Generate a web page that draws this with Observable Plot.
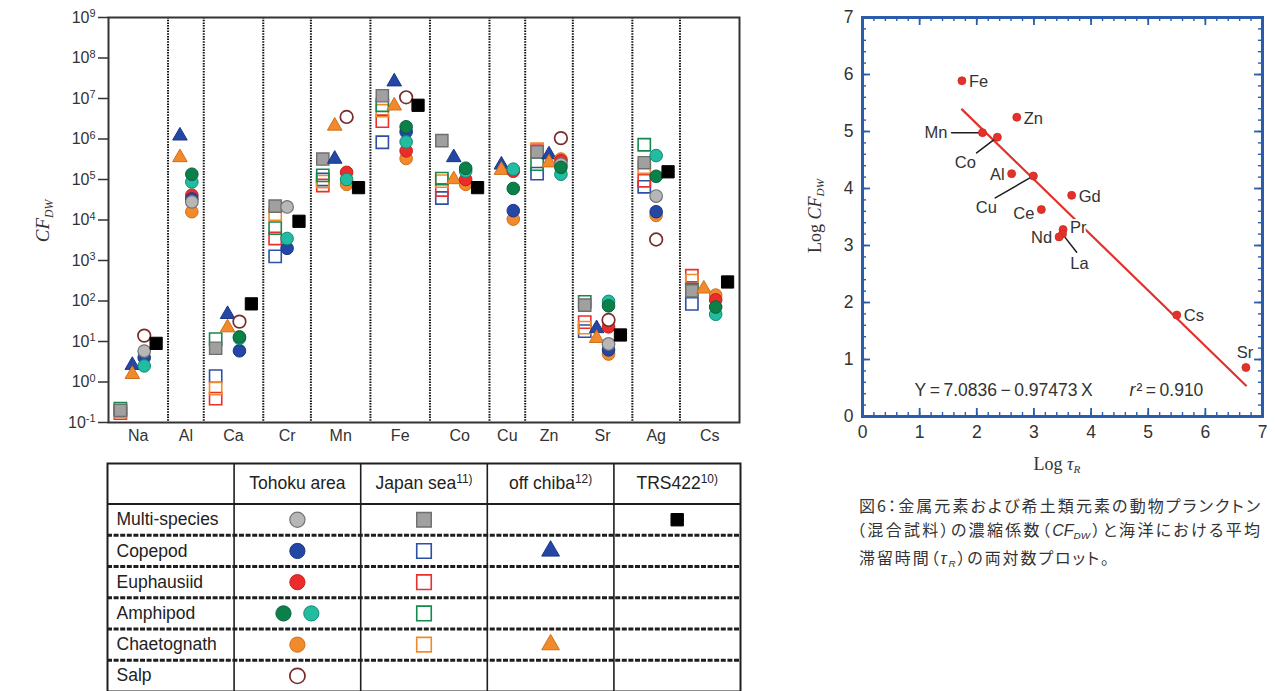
<!DOCTYPE html>
<html>
<head>
<meta charset="utf-8">
<script src="https://cdn.jsdelivr.net/npm/d3@7"></script>
<script src="https://cdn.jsdelivr.net/npm/@observablehq/plot@0.6"></script>
<style>
  html, body { margin: 0; padding: 0; background: #fff; }
  body { width: 1275px; height: 691px; position: relative; overflow: hidden; font-family: "Liberation Sans", Arial, sans-serif; color: #333; }
  .abs { position: absolute; }
  .rot { position: absolute; transform: translate(-50%, -50%) rotate(-90deg); white-space: nowrap; font-family: "Liberation Serif", "DejaVu Serif", serif; color: #333; }
  .hor { position: absolute; transform: translate(-50%, -50%); white-space: nowrap; font-family: "Liberation Serif", "DejaVu Serif", serif; color: #333; }
  .sb { font-size: 0.62em; position: relative; top: 0.3em; }
  #caption { position: absolute; left: 859px; top: 493px; width: 401px; font-family: "Noto Sans CJK JP", sans-serif; font-size: 16px; line-height: 24px; color: #333; font-feature-settings: "palt"; }
  #caption .j { text-align: justify; text-align-last: justify; white-space: nowrap; }
  #caption i { font-family: "Liberation Sans", Arial, sans-serif; }
</style>
</head>
<body>
<div id="left" class="abs" style="left:0;top:0"></div>
<div id="table" class="abs" style="left:0;top:455px"></div>
<div id="right" class="abs" style="left:800px;top:0"></div>

<div class="rot" style="left:43px;top:221px;font-size:19px"><i>CF</i><i class="sb">DW</i></div>
<div class="rot" style="left:815px;top:216px;font-size:18px">Log <i>CF</i><i class="sb">DW</i></div>
<div class="hor" style="left:1057px;top:464px;font-size:18px">Log <i>τ</i><i class="sb">R</i></div>

<div id="caption">
  <div class="j">図6：金属元素および希土類元素の動物プランクトン</div>
  <div class="j" style="margin-left:-2px;width:403px">（混合試料）の濃縮係数（<i>CF</i><i class="sb">DW</i>）と海洋における平均</div>
  <div style="letter-spacing:1.9px">滞留時間（<i>τ</i><i class="sb">R</i>）の両対数プロット。</div>
</div>

<script>
// ---------------- DATA: left chart (CF_DW, dry-weight concentration factors) ----------------
const elements = ["Na","Al","Ca","Cr","Mn","Fe","Co","Cu","Zn","Sr","Ag","Cs"];
const yTickExponents = [-1,0,1,2,3,4,5,6,7,8,9];

// Tohoku area (circles)
const tohokuMulti       = [5.8, 2.8e4, null, 2.1e4, null, null, null, null, 2.4e5, 8.7, 3.9e4, null];
const tohokuCopepod     = [4.0, 3.3e4, 5.9, 2.0e3, null, 1.5e6, null, 1.7e4, null, 6.2, 1.6e4, null];
const tohokuEuphausiid  = [null, 4.1e4, null, null, 1.5e5, 5.1e5, 1.0e5, 1.6e5, 2.9e5, 23, null, 107];
const tohokuAmphipodA   = [null, 1.35e5, 13, null, null, 2.0e6, 1.9e5, 6.0e4, 2.0e5, 76, 1.2e5, 71];
const tohokuAmphipodB   = [2.5, 8.7e4, 12, 3.5e3, 1.0e5, 8.5e5, 1.6e5, 1.8e5, 1.35e5, 98, 3.9e5, 47];
const tohokuChaetognath = [null, 1.6e4, null, null, 7.6e4, 3.3e5, 7.6e4, 1.05e4, 3.2e5, 4.9, 1.3e4, 140];
const tohokuSalp        = [14, null, 31, null, 3.5e6, 1.07e7, null, null, 1.05e6, 34, 3.3e3, null];
// Japan sea (squares)
const japanMulti        = [0.2, null, 6.8, 2.2e4, 3.2e5, 1.17e7, 9.1e5, null, 4.8e5, 79, 2.6e5, 178];
const japanCopepod      = [null, null, 1.4, 1.26e3, 1.0e5, 8.3e5, 3.5e4, null, 1.4e5, 18, 6.6e4, 85];
const japanEuphausiid   = [0.17, null, 0.39, 3.5e3, 7.1e4, 2.75e6, 5.5e4, null, 5.0e5, 30, 9.3e4, 420];
const japanAmphipod     = [0.22, null, 11.5, 6.3e3, 1.26e5, 6.8e6, 1.05e5, null, 2.4e5, 95, 7.2e5, 190];
const japanChaetognath  = [0.19, null, 0.69, 1.4e4, 8.9e4, 5.0e6, 9.1e4, null, 5.6e5, 22, 2.0e5, 320];
// off chiba (triangles)
const chibaCopepod      = [2.6, 1.2e6, 47, null, 3.2e5, 2.6e7, 3.5e5, 2.3e5, 4.1e5, 21, null, null];
const chibaChaetognath  = [1.55, 3.5e5, 22, null, 2.1e6, 6.6e6, 1.0e5, 1.7e5, 2.6e5, 12, null, 200];
// TRS422 (black squares)
const trs422            = [9, null, 85, 9.3e3, 6.3e4, 6.8e6, 6.3e4, null, null, 14.5, 1.55e5, 295];

// ---------------- DATA: legend table ----------------
const legendColumns = ["Tohoku area", "Japan sea^11)", "off chiba^12)", "TRS422^10)"];
const legendRows = ["Multi-species", "Copepod", "Euphausiid", "Amphipod", "Chaetognath", "Salp"];

// ---------------- DATA: right chart ----------------
const reElements = ["Fe","Zn","Mn","Co","Al","Cu","Gd","Ce","Pr","La","Nd","Cs","Sr"];
const logTauR    = [1.74, 2.70, 2.10, 2.36, 2.61, 2.99, 3.66, 3.13, 3.51, 3.50, 3.44, 5.50, 6.71];
const logCFdw    = [5.89, 5.25, 4.98, 4.90, 4.26, 4.22, 3.88, 3.63, 3.28, 3.20, 3.15, 1.78, 0.86];
const fitIntercept = 7.0836;
const fitSlope = -0.97473;
const fitR2 = "0.910";
const axisTicks = [0, 1, 2, 3, 4, 5, 6, 7];

// ---------------- series definitions (draw order) ----------------
const seriesList = [
  {key:"japanCopepod",      source:"japan",  group:"Copepod",       values: japanCopepod},
  {key:"japanEuphausiid",   source:"japan",  group:"Euphausiid",    values: japanEuphausiid},
  {key:"japanChaetognath",  source:"japan",  group:"Chaetognath",   values: japanChaetognath},
  {key:"japanAmphipod",     source:"japan",  group:"Amphipod",      values: japanAmphipod},
  {key:"japanMulti",        source:"japan",  group:"Multi-species", values: japanMulti},
  {key:"chibaCopepod",      source:"chiba",  group:"Copepod",       values: chibaCopepod},
  {key:"chibaChaetognath",  source:"chiba",  group:"Chaetognath",   values: chibaChaetognath},
  {key:"tohokuChaetognath", source:"tohoku", group:"Chaetognath",   values: tohokuChaetognath},
  {key:"tohokuEuphausiid",  source:"tohoku", group:"Euphausiid",    values: tohokuEuphausiid},
  {key:"tohokuCopepod",     source:"tohoku", group:"Copepod",       values: tohokuCopepod},
  {key:"tohokuMulti",       source:"tohoku", group:"Multi-species", values: tohokuMulti},
  {key:"tohokuAmphipodB",   source:"tohoku", group:"Amphipod",      values: tohokuAmphipodB},
  {key:"tohokuAmphipodA",   source:"tohoku", group:"Amphipod",      values: tohokuAmphipodA},
  {key:"tohokuSalp",        source:"tohoku", group:"Salp",          values: tohokuSalp},
  {key:"trs422",            source:"trs",    group:"Multi-species", values: trs422}
];
const legendOrder = ["tohokuMulti","tohokuCopepod","tohokuEuphausiid","tohokuAmphipodA","tohokuAmphipodB","tohokuChaetognath","tohokuSalp",
  "japanMulti","japanCopepod","japanEuphausiid","japanAmphipod","japanChaetognath","chibaCopepod","chibaChaetognath","trs422"];
const sourceColumn = {tohoku: 0, japan: 1, chiba: 2, trs: 3};

// ---------------- styles ----------------
const styles = {
  tohokuMulti:       {symbol:"circle",   fill:"#b7b7b7", stroke:"#737373", strokeWidth:1.2},
  tohokuCopepod:     {symbol:"circle",   fill:"#2447a6", stroke:"#1a3683", strokeWidth:1},
  tohokuEuphausiid:  {symbol:"circle",   fill:"#ec2b2b", stroke:"#c71f1f", strokeWidth:1},
  tohokuAmphipodA:   {symbol:"circle",   fill:"#0b8149", stroke:"#06623a", strokeWidth:1},
  tohokuAmphipodB:   {symbol:"circle",   fill:"#22bca1", stroke:"#108a74", strokeWidth:1},
  tohokuChaetognath: {symbol:"circle",   fill:"#f08a2c", stroke:"#d26f18", strokeWidth:1},
  tohokuSalp:        {symbol:"circle",   fill:"#ffffff", stroke:"#7b2a2a", strokeWidth:1.7},
  japanMulti:        {symbol:"square",   fill:"#a0a0a0", stroke:"#6e6e6e", strokeWidth:1.4},
  japanCopepod:      {symbol:"square",   fill:"none",    stroke:"#2c4fa8", strokeWidth:1.6},
  japanEuphausiid:   {symbol:"square",   fill:"none",    stroke:"#e8302c", strokeWidth:1.6},
  japanAmphipod:     {symbol:"square",   fill:"none",    stroke:"#13894e", strokeWidth:1.6},
  japanChaetognath:  {symbol:"square",   fill:"none",    stroke:"#f08a2c", strokeWidth:1.6},
  chibaCopepod:      {symbol:"triangle", fill:"#2447a6", stroke:"#1a3683", strokeWidth:1},
  chibaChaetognath:  {symbol:"triangle", fill:"#f08a2c", stroke:"#d26f18", strokeWidth:1},
  trs422:            {symbol:"square",   fill:"#000000", stroke:"#000000", strokeWidth:1}
};
const chartR = {circle: 6.3, square: 6.9, triangle: 5.4};
const tableR = {circle: 7.6, square: 8.2, triangle: 6.6};
const dotOpts = (st, sizes) => ({symbol: st.symbol, r: sizes[st.symbol], fill: st.fill, stroke: st.stroke, strokeWidth: st.strokeWidth});

// turn "base^sup" text into base + raised small superscript (kept as real text)
function superscriptify(svg, exponentShift) {
  d3.select(svg).selectAll("text").filter(function() { return /\^/.test(this.textContent); }).each(function() {
    const [b, e] = this.textContent.split("^");
    const t = d3.select(this);
    t.text(null);
    t.append("tspan").text(b);
    t.append("tspan").attr("dy", exponentShift).attr("font-size", "0.68em").text(e);
  });
}

// ---------------- LEFT CHART ----------------
const records = seriesList.flatMap(s =>
  elements.map((e, i) => ({element: e, source: s.source, key: s.key, value: s.values[i]}))
          .filter(d => d.value != null));
const slotOrder = ["japan", "chiba", "tohoku", "trs"];
const groupPad = 1.0;
const slotX = new Map();
const centers = [];
const bounds = [];
let cursor = 0;
for (const e of elements) {
  const present = slotOrder.filter(src => records.some(d => d.element === e && d.source === src));
  present.forEach((src, k) => slotX.set(e + "|" + src, cursor + groupPad / 2 + k + 0.5));
  centers.push({element: e, x: cursor + (present.length + groupPad) / 2});
  cursor += present.length + groupPad;
  bounds.push(cursor);
}
bounds.pop();
const total = cursor;

const leftSvg = Plot.plot({
  width: 760, height: 452,
  marginLeft: 108, marginRight: 21, marginTop: 17, marginBottom: 30,
  style: {fontFamily: "Liberation Sans, Arial, sans-serif", color: "#333", background: "transparent", overflow: "visible"},
  x: {domain: [0, total], axis: null},
  y: {type: "log", domain: [0.1, 1e9], axis: null},
  marks: [
    Plot.ruleX(bounds, {stroke: "#111", strokeWidth: 2, strokeDasharray: "1.5,1.2"}),
    Plot.axisY({ticks: yTickExponents.map(e => Math.pow(10, e)), tickFormat: d => "10^" + Math.round(Math.log10(d)),
                tickSize: 10, tickPadding: 3, fontSize: 16, stroke: "#333", strokeWidth: 1.5, label: null}),
    Plot.text(centers, {x: "x", text: "element", frameAnchor: "bottom", lineAnchor: "top", dy: 7, fontSize: 16, fill: "#333"}),
    ...seriesList.map(s => Plot.dot(records.filter(d => d.key === s.key),
        {x: d => slotX.get(d.element + "|" + d.source), y: "value", ...dotOpts(styles[s.key], chartR)})),
    Plot.frame({stroke: "#333", strokeWidth: 2})
  ]
});
superscriptify(leftSvg, "-0.5em");
document.getElementById("left").append(leftSvg);

// ---------------- LEGEND TABLE ----------------
const headerH = 1.3;
const cellGroups = d3.group(legendOrder.map(k => seriesList.find(s => s.key === k)), s => s.source + "|" + s.group);
const legendDots = [];
for (const [, list] of cellGroups) {
  list.forEach((s, k) => legendDots.push({
    key: s.key,
    x: sourceColumn[s.source] + 1.5 + (k - (list.length - 1) / 2) * 0.22,
    y: headerH + legendRows.indexOf(s.group) + 0.5
  }));
}
const tableSvg = Plot.plot({
  width: 760, height: 240,
  marginLeft: 107, marginRight: 20, marginTop: 8, marginBottom: 4,
  style: {fontFamily: "Liberation Sans, Arial, sans-serif", color: "#222", background: "transparent"},
  x: {domain: [0, 5], axis: null},
  y: {domain: [0, headerH + legendRows.length], reverse: true, axis: null},
  marks: [
    Plot.ruleY(legendRows.slice(1).map((_, i) => headerH + i + 1), {stroke: "#1e1e1e", strokeWidth: 3, strokeDasharray: "5,1.6"}),
    Plot.ruleY([headerH], {stroke: "#1e1e1e", strokeWidth: 2}),
    Plot.ruleX([1, 2, 3, 4], {stroke: "#1e1e1e", strokeWidth: 1.6}),
    Plot.text(legendColumns, {x: (d, i) => i + 1.5, y: headerH / 2, text: d => d, fontSize: 17.5, fill: "#222"}),
    Plot.text(legendRows, {x: 0, y: (d, i) => headerH + i + 0.5, text: d => d, textAnchor: "start", dx: 9, fontSize: 17.5, fill: "#222"}),
    ...legendOrder.map(k => Plot.dot(legendDots.filter(d => d.key === k), {x: "x", y: "y", ...dotOpts(styles[k], k === "trs422" ? {square: 7} : tableR)})),
    Plot.frame({stroke: "#1e1e1e", strokeWidth: 2})
  ]
});
superscriptify(tableSvg, "-0.55em");
document.getElementById("table").append(tableSvg);

// ---------------- RIGHT CHART ----------------
const blue = "#2a5cab";
const rW = 475, rH = 485, rML = 62, rMR = 13, rMT = 17, rMB = 69;
const innerW = rW - rML - rMR, innerH = rH - rMT - rMB;
const minorTicks = d3.range(0, 35).map(i => i / 5);
const pts = reElements.map((el, i) => ({el, x: logTauR[i], y: logCFdw[i]}));
const fitLine = d3.extent(logTauR).map(x => ({x, y: fitIntercept + fitSlope * x}));
const leaderShape = {draw(context, l) { context.moveTo(0, 0); context.lineTo(0, -l); }};
const placement = {
  right:  {els: ["Fe","Zn","Gd","Cs"], dx: 7,  dy: 1,  textAnchor: "start"},
  pr:     {els: ["Pr"],                dx: 7,  dy: -2, textAnchor: "start"},
  left:   {els: ["Al","Nd"],           dx: -7, dy: 1,  textAnchor: "end"},
  ce:     {els: ["Ce"],                dx: -7, dy: 4,  textAnchor: "end"},
  above:  {els: ["Sr"],                dx: -1, dy: -15, textAnchor: "middle"},
  mn:     {els: ["Mn"],                dx: -35, dy: 0, textAnchor: "end",    leader: {length: 31, rotate: -90}},
  co:     {els: ["Co"],                dx: -32, dy: 26, textAnchor: "middle", leader: {length: 26, rotate: 233}},
  cu:     {els: ["Cu"],                dx: -47, dy: 32, textAnchor: "middle", leader: {length: 44, rotate: 240}},
  la:     {els: ["La"],                dx: 17, dy: 30, textAnchor: "middle", leader: {length: 23, rotate: 142}}
};
const placeMarks = Object.values(placement);
const ts = "\u2009";

const rightSvg = Plot.plot({
  width: rW, height: rH,
  marginLeft: rML, marginRight: rMR, marginTop: rMT, marginBottom: rMB,
  style: {fontFamily: "Liberation Sans, Arial, sans-serif", color: "#333", background: "transparent", overflow: "visible"},
  x: {domain: [0, 7], axis: null},
  y: {domain: [0, 7], axis: null},
  marks: [
    Plot.axisX({ticks: axisTicks, tickFormat: d => String(d), tickSize: 0, tickPadding: 9, fontSize: 17.5, label: null, fill: "#333"}),
    Plot.axisY({ticks: axisTicks, tickFormat: d => String(d), tickSize: 0, tickPadding: 9, fontSize: 17.5, label: null, fill: "#333"}),
    // inward ticks on four sides
    Plot.ruleX(minorTicks, {insetTop: innerH - 4, stroke: blue, strokeWidth: 1.4}),
    Plot.ruleX(minorTicks, {insetBottom: innerH - 4, stroke: blue, strokeWidth: 1.4}),
    Plot.ruleY(minorTicks, {insetRight: innerW - 4, stroke: blue, strokeWidth: 1.4}),
    Plot.ruleY(minorTicks, {insetLeft: innerW - 4, stroke: blue, strokeWidth: 1.4}),
    Plot.ruleX(axisTicks, {insetTop: innerH - 8, stroke: blue, strokeWidth: 1.8}),
    Plot.ruleX(axisTicks, {insetBottom: innerH - 8, stroke: blue, strokeWidth: 1.8}),
    Plot.ruleY(axisTicks, {insetRight: innerW - 8, stroke: blue, strokeWidth: 1.8}),
    Plot.ruleY(axisTicks, {insetLeft: innerW - 8, stroke: blue, strokeWidth: 1.8}),
    Plot.line(fitLine, {x: "x", y: "y", stroke: "#e3312b", strokeWidth: 2.2}),
    ...placeMarks.filter(p => p.leader).map(p =>
      Plot.vector(pts.filter(d => p.els.includes(d.el)), {x: "x", y: "y", length: p.leader.length, rotate: p.leader.rotate,
        anchor: "start", shape: leaderShape, stroke: "#1e1e1e", strokeWidth: 1.5})),
    ...placeMarks.map(p =>
      Plot.text(pts.filter(d => p.els.includes(d.el)), {x: "x", y: "y", text: "el", dx: p.dx, dy: p.dy, textAnchor: p.textAnchor,
        fontSize: 16.5, fill: "#333", stroke: "white", strokeWidth: 4})),
    Plot.dot(pts, {x: "x", y: "y", r: 4, fill: "#e3312b", stroke: "#d02720", strokeWidth: 0.8}),
    Plot.text([`Y${ts}=${ts}7.0836${ts}−${ts}0.97473${ts}X`], {text: d => d, frameAnchor: "bottom-left", dx: 52, dy: -26, textAnchor: "start", lineAnchor: "middle", fontSize: 17.5, fill: "#333"}),
    Plot.text(["r"], {text: d => d, frameAnchor: "bottom-left", dx: 267, dy: -26, textAnchor: "start", lineAnchor: "middle", fontSize: 17.5, fontStyle: "italic", fill: "#333"}),
    Plot.text([`²${ts}=${ts}${fitR2}`], {text: d => d, frameAnchor: "bottom-left", dx: 274, dy: -26, textAnchor: "start", lineAnchor: "middle", fontSize: 17.5, fill: "#333"}),
    Plot.frame({stroke: blue, strokeWidth: 3})
  ]
});
document.getElementById("right").append(rightSvg);
</script>
</body>
</html>
